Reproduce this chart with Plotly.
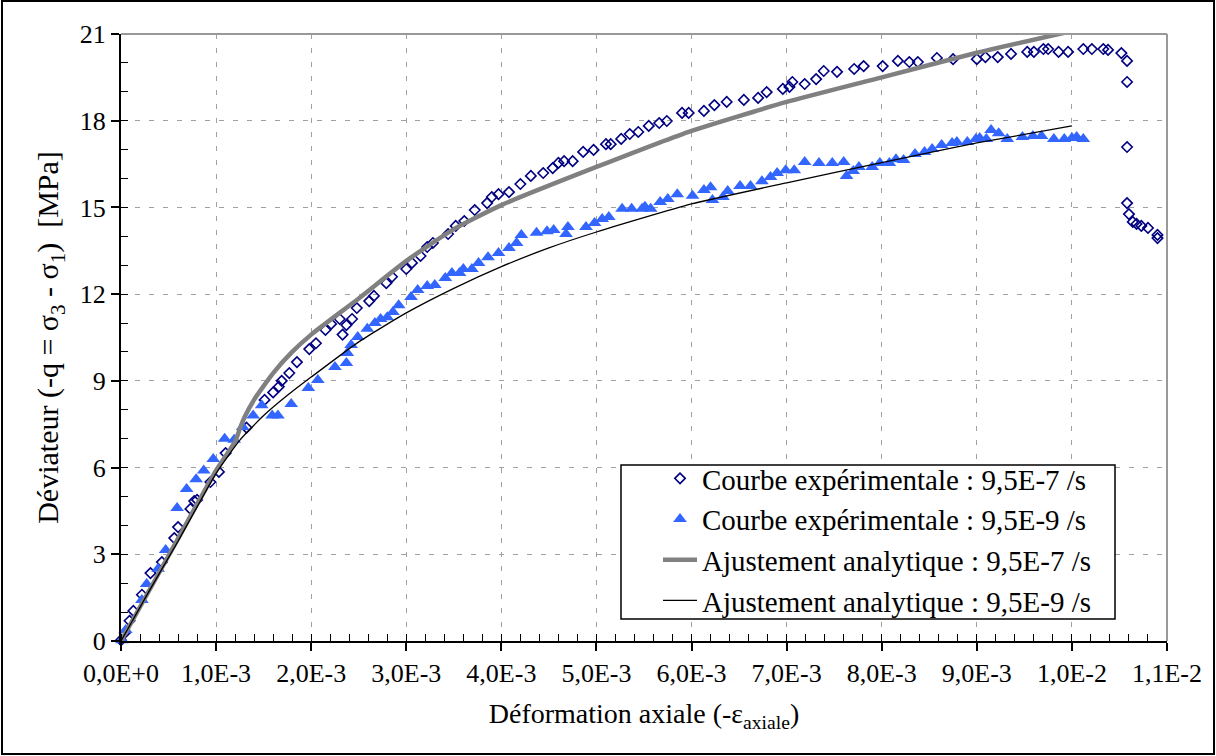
import plotly.graph_objects as go

# ---------------- data ----------------
exp7_x = [0.0, 0.00004, 0.00009, 0.00013, 0.00022, 0.00031, 0.00043, 0.00056, 0.0006, 0.00073,
          0.00077, 0.0008, 0.00094, 0.00103, 0.0011, 0.00132, 0.00151, 0.0016, 0.00166, 0.00169,
          0.00177, 0.00185, 0.00198, 0.00205, 0.00215, 0.00221, 0.0023, 0.00233, 0.00237, 0.00243,
          0.00248, 0.00261, 0.00266, 0.00279, 0.00285, 0.003, 0.00306, 0.00315, 0.00322, 0.00328,
          0.00344, 0.00352, 0.00361, 0.00372, 0.00385, 0.0039, 0.00397, 0.00408, 0.0042, 0.00431,
          0.00444, 0.00454, 0.0046, 0.00466, 0.00475, 0.00486, 0.00497, 0.0051, 0.00515, 0.00526,
          0.00535, 0.00544, 0.00555, 0.00566, 0.00574, 0.0059, 0.00597, 0.00613, 0.00624, 0.00637,
          0.00655, 0.0067, 0.00679, 0.00696, 0.00703, 0.00706, 0.00719, 0.00731, 0.00739, 0.00753,
          0.00771, 0.00781, 0.00801, 0.00817, 0.00829, 0.00838, 0.00858, 0.00875, 0.009, 0.00909,
          0.00922, 0.00936, 0.00953, 0.0096, 0.0097, 0.00975, 0.00986, 0.00996, 0.01012, 0.01021,
          0.01033, 0.01038, 0.01052, 0.01058, 0.01058, 0.01058, 0.01058, 0.0106, 0.01064, 0.01068,
          0.01073, 0.0108, 0.0109, 0.0109]
exp7_y = [0.03, 0.28, 0.7, 1.04, 1.6, 2.35, 2.73, 3.56, 3.94, 4.57,
          4.84, 4.88, 5.5, 5.85, 6.5, 7.38, 8.34, 8.6, 8.8, 9.0,
          9.27, 9.65, 10.1, 10.3, 10.76, 10.97, 11.14, 10.6, 10.93, 11.14,
          11.52, 11.76, 11.94, 12.38, 12.6, 12.87, 13.08, 13.32, 13.63, 13.77,
          14.08, 14.36, 14.53, 14.91, 15.15, 15.36, 15.46, 15.53, 15.81, 16.09,
          16.19, 16.36, 16.54, 16.6, 16.6, 16.92, 16.99, 17.19, 17.19, 17.37,
          17.54, 17.61, 17.82, 17.92, 17.99, 18.27, 18.27, 18.34, 18.54, 18.65,
          18.72, 18.79, 18.99, 19.1, 19.17, 19.34, 19.27, 19.44, 19.72, 19.69,
          19.79, 19.89, 19.89, 20.07, 20.03, 20.03, 20.17, 20.13, 20.13, 20.2,
          20.2, 20.31, 20.38, 20.38, 20.48, 20.48, 20.38, 20.38, 20.48, 20.48,
          20.48, 20.45, 20.34, 20.07, 19.34, 17.09, 15.15, 14.77, 14.5, 14.43,
          14.36, 14.29, 14.05, 13.94]

exp9_x = [0.00001, 0.00005, 0.00022, 0.00027, 0.00039, 0.00047, 0.00059, 0.00069, 0.00079, 0.00087,
          0.00097, 0.00109, 0.00119, 0.00128, 0.00139, 0.00148, 0.00159, 0.00165, 0.00179, 0.00197,
          0.00207, 0.00225, 0.00237, 0.00238, 0.00242, 0.00249, 0.00259, 0.00267, 0.00273, 0.0028,
          0.00286, 0.00292, 0.00305, 0.00312, 0.00322, 0.0033, 0.00341, 0.00348, 0.00356, 0.0036,
          0.00369, 0.00376, 0.00386, 0.00397, 0.00408, 0.00416, 0.00421, 0.00437, 0.00448, 0.00455,
          0.00468, 0.0047, 0.00489, 0.00498, 0.00506, 0.00513, 0.00527, 0.00537, 0.00548, 0.00551,
          0.00557, 0.00567, 0.00575, 0.00585, 0.00601, 0.00613, 0.0062, 0.00622, 0.00633, 0.00638,
          0.00651, 0.00662, 0.00674, 0.00683, 0.0069, 0.00699, 0.00708, 0.00719, 0.00734, 0.00748,
          0.0076, 0.00763, 0.0077, 0.00776, 0.0079, 0.00798, 0.00808, 0.00815, 0.00823, 0.00835,
          0.00845, 0.00853, 0.00863, 0.00874, 0.00879, 0.0089, 0.00899, 0.00903, 0.0091, 0.00915,
          0.00923, 0.00932, 0.00948, 0.00959, 0.00968, 0.00981, 0.00992, 0.01, 0.01005, 0.01012]
exp9_y = [0.03, 0.38, 1.42, 1.97, 2.5, 3.15, 4.6, 5.26, 5.6, 5.9,
          6.3, 7.0, 6.96, 7.4, 7.8, 8.16, 7.8, 7.8, 8.2, 8.75,
          9.03, 9.48, 9.62, 9.96, 10.24, 10.52, 10.8, 11.0, 11.14, 11.2,
          11.38, 11.62, 11.9, 12.14, 12.28, 12.32, 12.56, 12.73, 12.73, 12.87,
          12.87, 13.08, 13.28, 13.42, 13.6, 13.77, 14.05, 14.12, 14.18, 14.22,
          14.08, 14.32, 14.32, 14.46, 14.6, 14.67, 14.95, 14.95, 14.95, 15.02,
          14.95, 15.19, 15.29, 15.46, 15.4, 15.6, 15.7, 15.26, 15.36, 15.57,
          15.74, 15.74, 15.91, 16.05, 16.19, 16.29, 16.29, 16.57, 16.54, 16.54,
          16.57, 16.09, 16.26, 16.4, 16.4, 16.54, 16.54, 16.67, 16.64, 16.85,
          16.92, 17.02, 17.16, 17.23, 17.26, 17.26, 17.37, 17.4, 17.37, 17.68,
          17.57, 17.37, 17.44, 17.47, 17.47, 17.37, 17.37, 17.4, 17.44, 17.37]

fit7_x = [0.0, 0.0005, 0.001, 0.0012, 0.00125, 0.0013, 0.0014, 0.0016, 0.0018, 0.002,
          0.0025, 0.003, 0.0035, 0.004, 0.005, 0.006, 0.007, 0.008, 0.009, 0.01]
fit7_y = [0.0, 2.95, 5.9, 6.9, 7.35, 7.75, 8.35, 9.27, 10.0, 10.6,
          11.85, 13.15, 14.25, 15.08, 16.4, 17.65, 18.65, 19.5, 20.35, 21.1]

fit9_x = [0.0, 0.0003, 0.0006, 0.001, 0.00125, 0.0015, 0.00175, 0.002, 0.0025, 0.003,
          0.0035, 0.004, 0.0045, 0.005, 0.006, 0.007, 0.008, 0.009, 0.01]
fit9_y = [0.0, 1.75, 3.45, 5.8, 6.95, 7.8, 8.5, 9.13, 10.35, 11.35,
          12.2, 12.95, 13.6, 14.15, 15.12, 15.85, 16.55, 17.23, 17.82]

x_tick_vals = [0.000, 0.001, 0.002, 0.003, 0.004, 0.005, 0.006, 0.007, 0.008, 0.009, 0.010, 0.011]
x_tick_text = ["0,0E+0", "1,0E-3", "2,0E-3", "3,0E-3", "4,0E-3", "5,0E-3", "6,0E-3",
               "7,0E-3", "8,0E-3", "9,0E-3", "1,0E-2", "1,1E-2"]
y_tick_vals = [0, 3, 6, 9, 12, 15, 18, 21]

names = ["Courbe expérimentale : 9,5E-7 /s",
         "Courbe expérimentale : 9,5E-9 /s",
         "Ajustement analytique : 9,5E-7 /s",
         "Ajustement analytique : 9,5E-9 /s"]

# ---------------- figure ----------------
FONT = "Liberation Serif"
W, H = 1216, 756
ML, MR, MT, MB = 121, 49, 34, 115
PW, PH = W - ML - MR, H - MT - MB


def px_x(p):
    return (p - ML) / PW


def px_y(p):
    return (H - MB - p) / PH


fig = go.Figure()
fig.add_trace(go.Scatter(x=exp7_x, y=exp7_y, mode="markers", name=names[0], legendgroup="a",
                         marker=dict(symbol="diamond-open", size=8, color="#000080",
                                     line=dict(width=1.6, color="#000080")),
                         cliponaxis=False))
fig.add_trace(go.Scatter(x=exp9_x, y=exp9_y, mode="markers", name=names[1], legendgroup="b",
                         marker=dict(symbol="triangle-up", size=12, color="#3366FF",
                                     line=dict(width=0)),
                         cliponaxis=False))
fig.add_trace(go.Scatter(x=fit7_x, y=fit7_y, mode="lines", name=names[2], legendgroup="c",
                         line=dict(color="#808080", width=4.5, shape="spline", smoothing=0.5)))
fig.add_trace(go.Scatter(x=fit9_x, y=fit9_y, mode="lines", name=names[3], legendgroup="d",
                         line=dict(color="black", width=1.3, shape="spline", smoothing=0.5)))

# frame: gray top/right borders of the plot area, black outer border, legend box
fig.add_shape(type="line", xref="paper", yref="paper", x0=0, x1=1, y0=1, y1=1,
              line=dict(color="#999999", width=2))
fig.add_shape(type="line", xref="paper", yref="paper", x0=1, x1=1, y0=0, y1=1,
              line=dict(color="#999999", width=2))
fig.add_shape(type="rect", xref="paper", yref="paper",
              x0=px_x(2), x1=px_x(W - 2), y0=px_y(H - 2), y1=px_y(1),
              line=dict(color="black", width=2), fillcolor="rgba(0,0,0,0)")
fig.add_shape(type="rect", xref="paper", yref="paper", layer="above",
              x0=px_x(621), x1=px_x(1115), y0=px_y(619), y1=px_y(465),
              line=dict(color="black", width=1.5), fillcolor="white")

fig.update_layout(
    width=W, height=H,
    margin=dict(l=ML, r=MR, t=MT, b=MB, autoexpand=False),
    paper_bgcolor="white", plot_bgcolor="white",
    font=dict(family=FONT, size=26, color="black"),
    showlegend=True,
    legend=dict(x=px_x(658), y=px_y(453), xanchor="left", yanchor="top",
                bgcolor="rgba(0,0,0,0)", borderwidth=0,
                font=dict(family=FONT, size=29), tracegroupgap=0,
                itemwidth=34),
)
fig.update_xaxes(
    range=[0, 0.011], tickvals=x_tick_vals, ticktext=x_tick_text, automargin=False,
    showline=True, linecolor="black", linewidth=2,
    ticks="outside", ticklen=8, tickwidth=1.5, tickcolor="black",
    minor=dict(dtick=0.0002, ticks="inside", ticklen=7, tickwidth=1.2, tickcolor="black", showgrid=False),
    showgrid=True, gridcolor="#a0a0a0", gridwidth=1, griddash="5px,9px",
    zeroline=False,
    tickfont=dict(family=FONT, size=26),
    title=dict(text="Déformation axiale (-ε<sub>axiale</sub>)", font=dict(family=FONT, size=28), standoff=16),
)
fig.update_yaxes(
    range=[0, 21], tickvals=y_tick_vals, automargin=False,
    showline=True, linecolor="black", linewidth=2,
    ticks="outside", ticklen=8, tickwidth=1.5, tickcolor="black",
    minor=dict(dtick=1, ticks="inside", ticklen=7, tickwidth=1.2, tickcolor="black", showgrid=False),
    showgrid=True, gridcolor="#a0a0a0", gridwidth=1, griddash="5px,9px",
    zeroline=False,
    tickfont=dict(family=FONT, size=26),
    title=dict(text="Déviateur (-q = σ<sub>3</sub> - σ<sub>1</sub>)\u00a0\u00a0[MPa]",
               font=dict(family=FONT, size=30), standoff=12),
)

fig.write_html("out.html", config={"displayModeBar": False},
               post_script="document.body.style.margin='0';document.body.style.overflow='hidden';")
